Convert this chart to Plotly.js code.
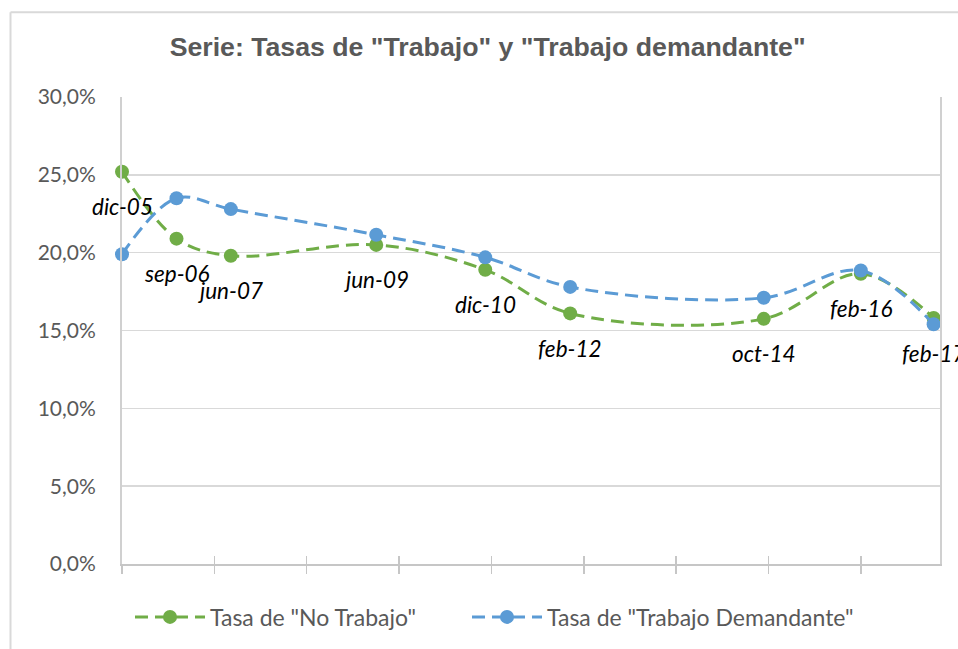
<!DOCTYPE html>
<html>
<head>
<meta charset="utf-8">
<script src="https://cdn.plot.ly/plotly-3.0.1.min.js"></script>
<style>html,body{margin:0;padding:0;background:#fff;}#chart{width:958px;height:649px;}</style>
</head>
<body>
<div id="chart"></div>
<script>
// Period labels (shown as data labels) and their dates
const periodLabels = ["dic-05", "sep-06", "jun-07", "jun-09", "dic-10", "feb-12", "oct-14", "feb-16", "feb-17"];
const periodDates = ["2005-12-01", "2006-09-01", "2007-06-01", "2009-06-01", "2010-12-01", "2012-02-01", "2014-10-01", "2016-02-01", "2017-02-01"];
// Rates in percent
const tasaNoTrabajo = [25.2, 20.9, 19.8, 20.5, 18.9, 16.1, 15.75, 18.65, 15.8];
const tasaTrabajoDemandante = [19.9, 23.5, 22.8, 21.15, 19.7, 17.8, 17.1, 18.85, 15.4];
const seriesNames = ['Tasa de "No Trabajo"', 'Tasa de "Trabajo Demandante"'];
const yTicks = [0, 5, 10, 15, 20, 25, 30];
const yTickLabels = ["0,0%", "5,0%", "10,0%", "15,0%", "20,0%", "25,0%", "30,0%"];

const GREEN = "#70AD47", BLUE = "#5B9BD5", TXT = "#595959";
const FONT = "Lato, 'Noto Sans', sans-serif";

const traces = [
  {
    x: periodDates, y: tasaNoTrabajo, name: seriesNames[0], type: "scatter", mode: "lines+markers",
    line: {color: GREEN, width: 3, dash: "13px,7px", shape: "spline", smoothing: 1},
    marker: {color: GREEN, size: 14, symbol: "circle"}, cliponaxis: false, hoverinfo: "skip",
    legendwidth: 252
  },
  {
    x: periodDates, y: tasaTrabajoDemandante, name: seriesNames[1], type: "scatter", mode: "lines+markers",
    line: {color: BLUE, width: 3, dash: "13px,7px", shape: "spline", smoothing: 1},
    marker: {color: BLUE, size: 14, symbol: "circle"}, cliponaxis: false, hoverinfo: "skip",
    legendwidth: 320
  }
];

const annotations = periodLabels.map((lab, i) => ({
  x: periodDates[i], y: tasaNoTrabajo[i], xref: "x", yref: "y",
  text: lab, showarrow: false, yshift: -35,
  font: {family: FONT, size: 22.5, color: "#000", style: "italic"}
}));

const tickStepMs = 464.25 * 86400000;

const layout = {
  width: 958, height: 649,
  margin: {l: 122, r: 18, t: 97, b: 84},
  paper_bgcolor: "#fff", plot_bgcolor: "#fff",
  title: {
    text: 'Serie: Tasas de "Trabajo" y "Trabajo demandante"',
    font: {family: "'Liberation Sans', Arial, sans-serif", size: 26.7, color: TXT, weight: "bold"},
    x: 0.509, xref: "container", xanchor: "center",
    y: 1 - 47 / 649, yref: "container", yanchor: "middle"
  },
  xaxis: {
    type: "date", range: ["2005-12-01", "2017-03-05"],
    tickmode: "linear", tick0: "2005-12-01", dtick: tickStepMs,
    showticklabels: false, ticks: "outside", ticklen: 8, tickwidth: 1.5, tickcolor: "#c6c6c6",
    showgrid: false, zeroline: false,
    showline: true, linecolor: "#c6c6c6", linewidth: 2
  },
  xaxis2: {
    type: "date", overlaying: "x", anchor: "y", matches: "x",
    range: ["2005-12-01", "2017-03-05"],
    tickmode: "linear", tick0: "2005-12-01", dtick: tickStepMs,
    showticklabels: false, ticks: "inside", ticklen: 8, tickwidth: 1.5, tickcolor: "#c6c6c6",
    showgrid: false, zeroline: false, showline: false
  },
  yaxis: {
    range: [0, 30], tickmode: "array", tickvals: yTicks, ticktext: yTickLabels,
    tickfont: {family: FONT, size: 21, color: TXT},
    ticks: "", ticklabelstandoff: 20,
    showgrid: true, gridcolor: "#d9d9d9", gridwidth: 1.5,
    zeroline: false, showline: true, mirror: true, linecolor: "#d0d0d0", linewidth: 2
  },
  showlegend: true,
  legend: {
    orientation: "h", x: (130 - 122) / 818, xanchor: "left", y: -0.111, yanchor: "middle",
    font: {family: FONT, size: 23, color: TXT},
    itemwidth: 70, tracegroupgap: 0, bgcolor: "rgba(0,0,0,0)"
  },
  annotations: annotations,
  shapes: [
    {type: "line", xref: "paper", yref: "paper", x0: (10.5 - 122) / 818, x1: 1.2, y0: (565 - 12) / 468, y1: (565 - 12) / 468,
     line: {color: "#d9d9d9", width: 2}, layer: "below"},
    {type: "line", xref: "paper", yref: "paper", x0: (10.5 - 122) / 818, x1: (10.5 - 122) / 818, y0: (565 - 12) / 468, y1: -0.3,
     line: {color: "#d9d9d9", width: 2}, layer: "below"}
  ]
};

// invisible placeholder trace on xaxis2 so the overlay axis (inside tick marks) is drawn
traces.push({x: [periodDates[0]], y: [null], xaxis: "x2", yaxis: "y", type: "scatter", mode: "markers", showlegend: false, hoverinfo: "skip"});

Plotly.newPlot("chart", traces, layout, {displayModeBar: false, staticPlot: true});
</script>
</body>
</html>
